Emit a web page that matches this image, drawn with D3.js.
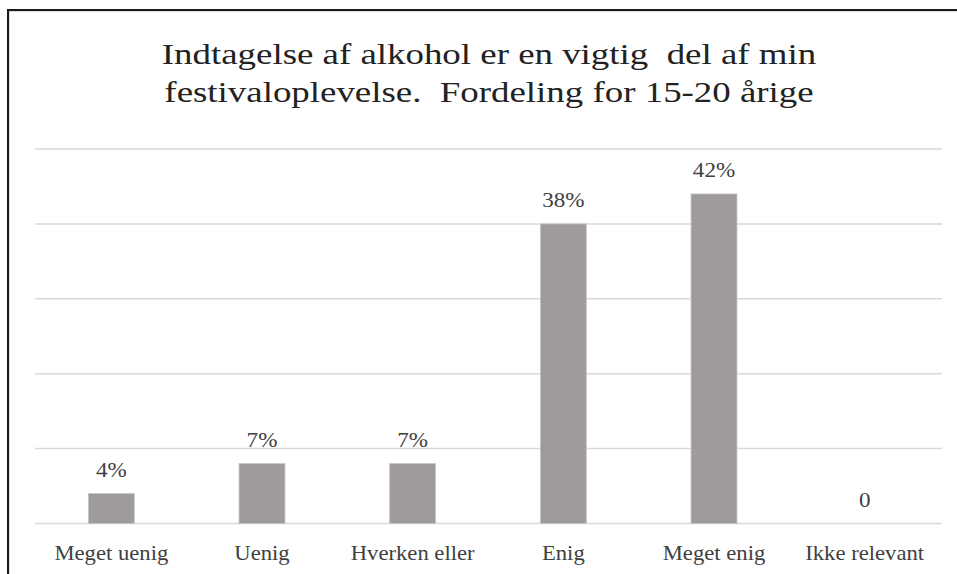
<!DOCTYPE html>
<html lang="da">
<head>
<meta charset="utf-8">
<title>Indtagelse af alkohol - 15-20 årige</title>
<script src="https://cdn.jsdelivr.net/npm/d3@7"></script>
<style>
  body { margin: 0; background: #fff; }
  svg text { font-family: "Liberation Serif", "Times New Roman", serif; }
</style>
</head>
<body>
<div id="chart"></div>
<script>
// respondent counts, with the labels that were printed on them
var categories = ["Meget uenig", "Uenig", "Hverken eller", "Enig", "Meget enig", "Ikke relevant"];
var counts = [2, 4, 4, 20, 22, 0];
var valueLabels = ["4%", "7%", "7%", "38%", "42%", "0"];
var yTicks = [0, 5, 10, 15, 20, 25];
var titleLines = ["Indtagelse af alkohol er en vigtig  del af min",
                  "festivaloplevelse.  Fordeling for 15-20 årige"];

drawChart();

function drawChart() {
  var w = 957, h = 574;
  var plotLeft = 36, plotRight = 940, plotTop = 149, base = 523.5;
  var serif = "'Liberation Serif', 'Times New Roman', serif";

  var svg = d3.select("#chart").append("svg")
    .attr("width", w).attr("height", h);

  svg.append("rect").attr("width", w).attr("height", h).attr("fill", "#fff");

  // frame (cropped at right and bottom)
  svg.append("rect")
    .attr("x", 9).attr("y", 11).attr("width", 1000).attr("height", 1000)
    .attr("fill", "none").attr("stroke", "#bbb").attr("stroke-width", 1);
  svg.append("rect")
    .attr("x", 8).attr("y", 10).attr("width", 1000).attr("height", 1000)
    .attr("fill", "none").attr("stroke", "#1a1a1a").attr("stroke-width", 2);

  var x = d3.scaleBand().domain(categories).range([plotLeft, plotRight]).padding(0);
  var y = d3.scaleLinear().domain([0, 25]).range([base, plotTop]);

  // gridlines
  svg.append("g").selectAll("line")
    .data(yTicks).enter().append("line")
    .attr("x1", plotLeft - 1).attr("x2", plotRight + 2)
    .attr("y1", function(d) { return y(d); })
    .attr("y2", function(d) { return y(d); })
    .attr("stroke", "#d9d9d9").attr("stroke-width", 1.5);

  var barW = x.bandwidth() * 0.305;

  svg.append("g").selectAll("rect")
    .data(counts).enter().append("rect")
    .attr("x", function(d, i) { return x(categories[i]) + x.bandwidth() / 2 - barW / 2; })
    .attr("y", function(d) { return y(d); })
    .attr("width", barW)
    .attr("height", function(d) { return base - y(d); })
    .attr("fill", "#9f9b9a")
    .attr("stroke", "#c8c6c5").attr("stroke-width", 0.8);

  // value labels
  svg.append("g").selectAll("text")
    .data(counts).enter().append("text")
    .attr("transform", function(d, i) {
      return "translate(" + (x(categories[i]) + x.bandwidth() / 2) + "," + (y(d) - 17) + ") scale(1.05,1)";
    })
    .attr("text-anchor", "middle")
    .attr("font-family", serif)
    .attr("font-size", 22)
    .attr("fill", "#404040")
    .text(function(d, i) { return valueLabels[i]; });

  // category labels
  svg.append("g").selectAll("text")
    .data(categories).enter().append("text")
    .attr("transform", function(d) {
      return "translate(" + (x(d) + x.bandwidth() / 2) + ",560) scale(1.03,1)";
    })
    .attr("text-anchor", "middle")
    .attr("font-family", serif)
    .attr("font-size", 22)
    .attr("fill", "#404040")
    .text(function(d) { return d; });

  // title
  svg.append("g").selectAll("text")
    .data(titleLines).enter().append("text")
    .attr("transform", function(d, i) {
      return "translate(489," + (64 + i * 38) + ") scale(1.23,1)";
    })
    .attr("text-anchor", "middle")
    .attr("font-family", serif)
    .attr("font-size", 30)
    .attr("fill", "#222")
    .style("white-space", "pre")
    .text(function(d) { return d; });
}
</script>
</body>
</html>
